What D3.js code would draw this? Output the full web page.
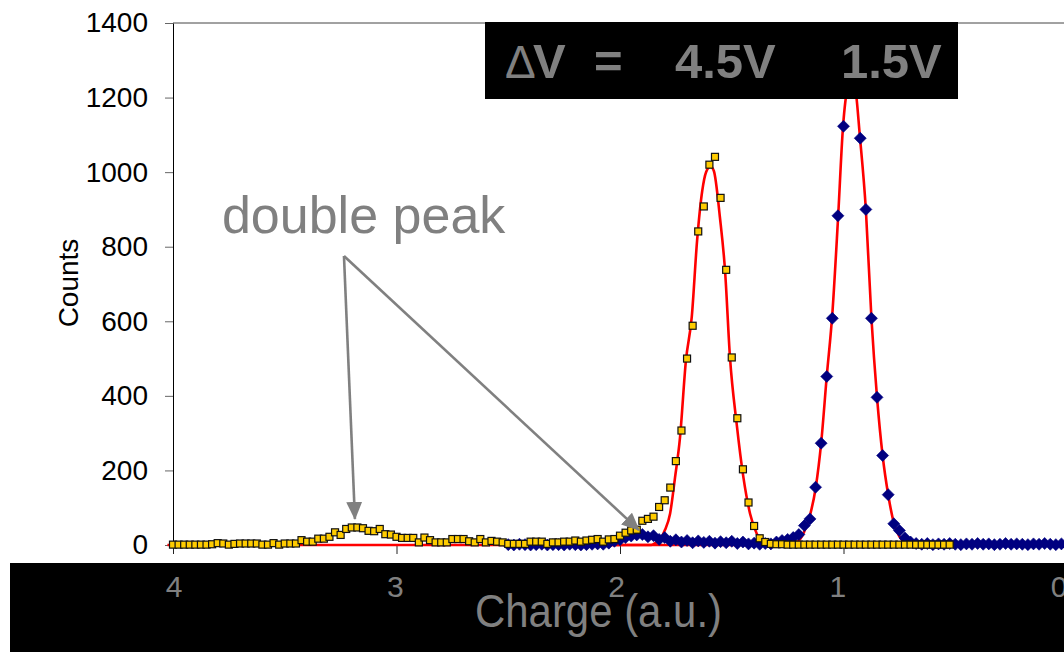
<!DOCTYPE html>
<html>
<head>
<meta charset="utf-8">
<script src="https://cdn.jsdelivr.net/npm/d3@7"></script>
<style>
body{margin:0;background:#fff}
svg{display:block}
text{font-family:"Liberation Sans",Arial,sans-serif}
</style>
</head>
<body>
<div id="chart"></div>
<script>

// charge bins (a.u.), counts
let yellowStart = 4.0, blueStart = 2.5, binStep = 0.025
let yellowCounts = [
	1,1,1,1,1,1,1,2,5,4,
	1,3,4,4,4,4,1,1,5,1,
	4,4,4,13,9,9,17,17,22,34,
	27,43,47,47,45,38,37,43,29,28,
	22,19,19,19,7,20,13,7,7,7,
	16,16,16,10,7,16,7,11,9,7,
	3,3,3,3,9,9,9,3,7,7,
	9,9,12,9,12,14,16,9,15,16,
	25,33,39,41,65,70,76,102,120,154,
	225,307,500,588,841,908,1020,1041,931,738,
	503,340,203,114,51,18,8,3,2,2,
	1,1,1,1,1,1,1,1,1,1,
	1,1,1,1,1,1,1,1,1,1,
	1,1,1,1,1,1,1,1,1,1
]
let blueCounts = [
	1,0,2,1,0,1,2,0,1,1,0,2,1,0,1,2,3,2,
	5,10,14,20,24,27,28,22,25,15,20,10,14,8,12,6,11,7,10,5,9,6,10,4,8,3,5,2,4,3,8,12,15,20,28,
	52,70,155,273,452,608,883,1123,1215,1225,1091,900,608,396,240,135,57,39,19,8,4,
	2,4,1,3,2,4,2,1,3,2,4,2,3,1,2,4,2,3,2,1,3,2,4,2,1,3,2
]

// gaussian fits (red), read as points
let fit1Charge = [4.025,1.86,1.843,1.821,1.799,1.776,1.754,1.732,1.705,1.679,1.655,1.632,1.615,1.595,1.58,1.553,1.53,1.508,1.478,1.448,1.418,1.388,1.366,1.342,1.32,0.525]
let fit1Count  = [0,0,5,14,40,84,180,285,495,611,817,950,1000,1015,1003,879,736,504,325,182,84,30,8,2,0,0]
let fit2Charge = [2.5,1.27,1.239,1.208,1.18,1.152,1.124,1.1,1.075,1.05,1.025,1.002,0.981,0.966,0.95,0.926,0.9,0.875,0.85,0.825,0.8,0.775,0.752,0.729,0.702,0.676,0]
let fit2Count  = [0,0,2,8,30,75,155,273,452,620,870,1123,1230,1250,1235,1091,900,608,396,240,135,60,25,8,2,0,0]

let yTicks = [0,200,400,600,800,1000,1200,1400]
let xTicks = [4,3,2,1,0]
let headerParts = ['\u0394','V','=','4.5V','1.5V']
let noteText = 'double peak'
let noteAt = [3.781, 837]
let arrowFrom = [3.235, 775]
let arrowTo = [[3.186, 70],[1.915, 40]]

let W = 1064, H = 652
let svg = d3.select('#chart').append('svg').attr('width',W).attr('height',H)

let x = d3.scaleLinear().domain([4,0]).range([173,1067])
let y = d3.scaleLinear().domain([0,1400]).range([545,23])
// the tick labels sit on a pasted black strip with its own spacing
let xStrip = d3.scaleLinear().domain([4,0]).range([174,1059])

// frame top
svg.append('line').attr('x1',173).attr('x2',W).attr('y1',y(1400)).attr('y2',y(1400))
	.attr('stroke','#444').attr('stroke-width',1)

let yAxis = svg.append('g').attr('transform','translate(173,0)')
	.call(d3.axisLeft(y).tickValues(yTicks).tickFormat(d3.format('d')).tickSize(8).tickPadding(17).tickSizeOuter(0))
yAxis.select('.domain').attr('stroke','#000')
yAxis.selectAll('.tick line').attr('stroke','#666')
yAxis.selectAll('text').attr('font-size',28).attr('fill','#000')
	.style('font-family','"Liberation Sans",Arial,sans-serif')

let xAxis = svg.append('g').attr('transform','translate(0,545)')
	.call(d3.axisBottom(x).tickValues(xTicks).tickSize(9).tickFormat('').tickSizeOuter(0))
xAxis.select('.domain').attr('stroke','#000')
xAxis.selectAll('.tick line').attr('stroke','#222')

svg.append('text').attr('transform','translate(78,283) rotate(-90)')
	.attr('text-anchor','middle').attr('font-size',28).text('Counts')

// fits
let fitLine = d3.line().x(d=>x(d[0])).y(d=>y(d[1])).curve(d3.curveMonotoneX)
;[[fit1Charge,fit1Count],[fit2Charge,fit2Count]].forEach(function(f){
	svg.append('path').datum(f[0].map((c,i)=>[c,f[1][i]]))
		.attr('d',fitLine).attr('fill','none').attr('stroke','#ff0000').attr('stroke-width',2.6)
})

// 1.5V series: navy diamonds
let blueData = blueCounts.map((v,i)=>({c: blueStart - i*binStep, v: v}))
svg.append('g').selectAll('path').data(blueData).enter().append('path')
	.attr('d', d3.symbol(d3.symbolSquare, 72)())
	.attr('transform', d=>'translate('+x(d.c)+','+y(d.v)+') rotate(45)')
	.attr('fill','#000080').attr('stroke','#000080').attr('stroke-width',0.6)

// 4.5V series: yellow squares
let yellowData = yellowCounts.map((v,i)=>({c: yellowStart - i*binStep, v: v}))
svg.append('g').selectAll('rect').data(yellowData).enter().append('rect')
	.attr('x', d=>x(d.c)-3.5).attr('y', d=>y(d.v)-3.5)
	.attr('width',7).attr('height',7)
	.attr('fill','#ffcc00').attr('stroke','#111').attr('stroke-width',1.2)

// header box
svg.append('rect').attr('x',485).attr('y',22).attr('width',473).attr('height',77).attr('fill','#000')
let hx = [505,533,594,675,841]
svg.append('g').selectAll('text').data(headerParts).enter().append('text')
	.attr('x',(d,i)=>hx[i]).attr('y',78)
	.attr('font-size',(d,i)=> i==0 ? 46 : 49)
	.attr('font-weight',(d,i)=> i==0 ? 'normal' : 'bold')
	.attr('fill','#808080').text(d=>d)

// bottom strip with tick labels and axis title
svg.append('rect').attr('x',10).attr('y',563).attr('width',W-10).attr('height',H-563).attr('fill','#000')
svg.append('g').selectAll('text').data(xTicks).enter().append('text')
	.attr('x',d=>xStrip(d)).attr('y',597).attr('text-anchor','middle')
	.style('font-size','30px').attr('fill','#808080')
	.text(d=>d)
svg.append('text').attr('x',475).attr('y',627)
	.style('font-size','47px').attr('fill','#808080')
	.attr('textLength',247).attr('lengthAdjust','spacingAndGlyphs')
	.text('Charge (a.u.)')

// annotation
let defs = svg.append('defs')
defs.append('marker').attr('id','head').attr('markerUnits','userSpaceOnUse')
	.attr('viewBox','0 0 18 16').attr('refX',17).attr('refY',8)
	.attr('markerWidth',18).attr('markerHeight',16).attr('orient','auto')
	.append('path').attr('d','M0,0 L18,8 L0,16 Z').attr('fill','#808080')

svg.append('g').selectAll('line').data(arrowTo).enter().append('line')
	.attr('x1',x(arrowFrom[0])).attr('y1',y(arrowFrom[1]))
	.attr('x2',d=>x(d[0])).attr('y2',d=>y(d[1]))
	.attr('stroke','#808080').attr('stroke-width',2.6).attr('marker-end','url(#head)')

svg.append('text').attr('x',x(noteAt[0])).attr('y',y(noteAt[1]))
	.attr('font-size',52).attr('fill','#808080').text(noteText)

</script>
</body>
</html>
